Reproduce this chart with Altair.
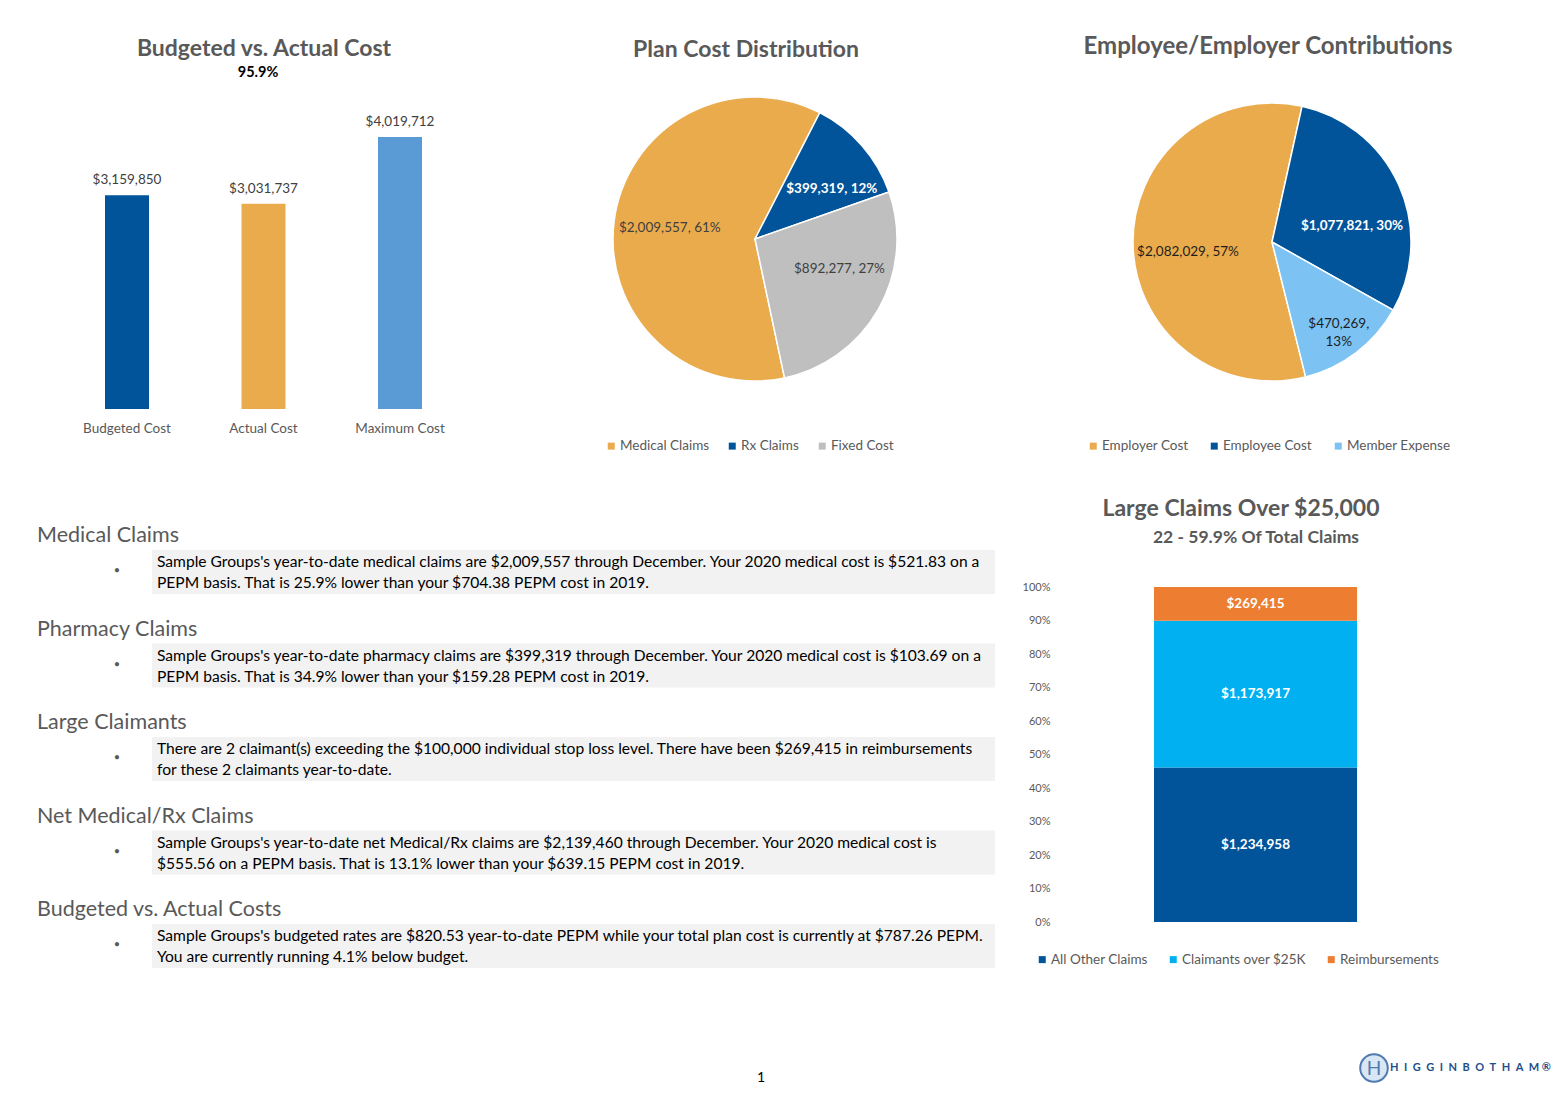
import math
import altair as alt
import pandas as pd

FONT = "Lato"
GRAY = "#595959"
DARK_BLUE = "#02549A"
ORANGE = "#EAAB4C"
LIGHT_BLUE = "#5B9BD5"
SILVER = "#BFBFBF"
SKY = "#7CC3F4"
CYAN = "#00B0F0"
RED_ORANGE = "#ED7D31"

# ---------------- data ----------------
cost_categories = ["Budgeted Cost", "Actual Cost", "Maximum Cost"]
cost_values = [3159850, 3031737, 4019712]
cost_title = ["Budgeted vs. Actual Cost"]
cost_subtitle = ["95.9%"]

plan_categories = ["Medical Claims", "Rx Claims", "Fixed Cost"]
plan_values = [2009557, 399319, 892277]
plan_title = ["Plan Cost Distribution"]

contrib_categories = ["Employer Cost", "Employee Cost", "Member Expense"]
contrib_values = [2082029, 1077821, 470269]
contrib_title = ["Employee/Employer Contributions"]

claim_categories = ["All Other Claims", "Claimants over $25K", "Reimbursements"]
claim_values = [1234958, 1173917, 269415]
claim_title = ["Large Claims Over $25,000"]
claim_subtitle = ["22 - 59.9% Of Total Claims"]
claim_ticks = [0, 0.1, 0.2, 0.3, 0.4, 0.5, 0.6, 0.7, 0.8, 0.9, 1.0]

section_titles = ["Medical Claims", "Pharmacy Claims", "Large Claimants",
                  "Net Medical/Rx Claims", "Budgeted vs. Actual Costs"]
section_line1 = [
    "Sample Groups's year-to-date medical claims are $2,009,557 through December. Your 2020 medical cost is $521.83 on a",
    "Sample Groups's year-to-date pharmacy claims are $399,319 through December. Your 2020 medical cost is $103.69 on a",
    "There are 2 claimant(s) exceeding the $100,000 individual stop loss level. There have been $269,415 in reimbursements",
    "Sample Groups's year-to-date net Medical/Rx claims are $2,139,460 through December. Your 2020 medical cost is",
    "Sample Groups's budgeted rates are $820.53 year-to-date PEPM while your total plan cost is currently at $787.26 PEPM.",
]
section_line2 = [
    "PEPM basis. That is 25.9% lower than your $704.38 PEPM cost in 2019.",
    "PEPM basis. That is 34.9% lower than your $159.28 PEPM cost in 2019.",
    "for these 2 claimants year-to-date.",
    "$555.56 on a PEPM basis. That is 13.1% lower than your $639.15 PEPM cost in 2019.",
    "You are currently running 4.1% below budget.",
]
page_number = ["1"]
brand = ["HIGGINBOTHAM"]


def label_chart(text, x, y, size, weight="normal", color=GRAY, align="center"):
    return alt.Chart(pd.DataFrame({"t": text})).mark_text(
        fontSize=size, fontWeight=weight, color=color, align=align, font=FONT
    ).encode(text="t:N", x=alt.value(x), y=alt.value(y))


# ---------------- Panel A: bar chart ----------------
W_A, H_A = 520, 462
BASE_A = 401            # pixel row of the bars' baseline
PX_PER_DOLLAR = 272 / 4.02e6
cost_df = pd.DataFrame({"cat": cost_categories, "value": cost_values})
xA = alt.X("cat:N", sort=cost_categories, axis=None,
           scale=alt.Scale(paddingInner=0, paddingOuter=0.4048, align=0.4593))
yA = alt.Y("value:Q", axis=None,
           scale=alt.Scale(domain=[-(H_A - BASE_A) / PX_PER_DOLLAR, BASE_A / PX_PER_DOLLAR],
                           nice=False, zero=False))
bars_a = alt.Chart(cost_df).mark_bar(width=44).encode(
    x=xA, y=yA, y2=alt.datum(0),
    color=alt.Color("cat:N", scale=alt.Scale(domain=cost_categories,
                                             range=[DARK_BLUE, ORANGE, LIGHT_BLUE]), legend=None))
vals_a = alt.Chart(cost_df).mark_text(dy=-15, fontSize=13.5, color="#404040", font=FONT).encode(
    x=xA, y=yA, text=alt.Text("value:Q", format="$,.0f"))
cats_a = alt.Chart(cost_df).mark_text(fontSize=13.5, color=GRAY, font=FONT).encode(
    x=xA, y=alt.value(421), text="cat:N")
panel_a = alt.layer(
    bars_a, vals_a, cats_a,
    label_chart(cost_title, 256, 41, 23, "bold"),
    label_chart(cost_subtitle, 250, 65, 14.5, "bold", "#000000"),
).properties(width=W_A, height=H_A)


# ---------------- Pie panels ----------------
def pie_panel(cats, vals, colors, title, W, H, cx, cy, r, start_deg, label_r,
              dark_cat, wrap_below, other_label_color, legend_x, legend_y, title_xy, col_pad,
              nudges, title_size=23):
    df = pd.DataFrame({"cat": cats, "value": vals, "order": list(range(len(cats)))})
    start = math.radians(start_deg)
    base = alt.Chart(df).transform_joinaggregate(total="sum(value)").transform_window(
        cum="sum(value)", sort=[alt.SortField("order")], frame=[None, 0]
    ).transform_calculate(
        s="datum.cum - datum.value",
        mid="datum.cum - datum.value / 2",
        pct="datum.value / datum.total",
    ).transform_calculate(
        label="format(datum.value, '$,.0f') + (datum.pct < %f ? ',\\n' : ', ') + format(datum.pct, '.0%%')" % wrap_below
    )
    tscale = alt.Scale(domain=[0, sum(vals)], range=[start, start + 2 * math.pi],
                       zero=True, nice=False)
    arcs = base.mark_arc(outerRadius=r, stroke="white", strokeWidth=1.5).encode(
        theta=alt.Theta("s:Q", stack=False, scale=tscale),
        theta2="cum:Q",
        x=alt.value(cx), y=alt.value(cy),
        color=alt.Color("cat:N", scale=alt.Scale(domain=cats, range=colors),
                        legend=alt.Legend(orient="none", legendX=legend_x, legendY=legend_y,
                                          direction="horizontal", title=None,
                                          symbolType="square", symbolSize=49,
                                          symbolStrokeWidth=0, labelFontSize=13.5,
                                          labelColor=GRAY, labelFont=FONT,
                                          columnPadding=col_pad, labelOffset=2, padding=0)),
    )
    layers = [arcs]
    for cat, (ndx, ndy) in zip(cats, nudges):
        dark = cat == dark_cat
        layers.append(base.transform_filter(alt.datum.cat == cat).mark_text(
            radius=label_r, fontSize=13.5, fontWeight="bold" if dark else "normal",
            color="white" if dark else other_label_color, font=FONT,
            lineBreak="\n", lineHeight=18, dx=ndx, dy=ndy).encode(
            theta=alt.Theta("mid:Q", stack=False, scale=tscale),
            x=alt.value(cx), y=alt.value(cy), text="label:N"))
    layers.append(label_chart(title, title_xy[0], title_xy[1], title_size, "bold"))
    return alt.layer(*layers).properties(width=W, height=H)


panel_b = pie_panel(plan_categories, plan_values, [ORANGE, DARK_BLUE, SILVER], plan_title,
                    482, 462, 227, 231, 142, 168, 90, "Rx Claims", 0.0, "#404040",
                    76.5, 431, (218, 42), 16, [(4, 1), (9, 9), (6, -14)])
panel_c = pie_panel(contrib_categories, contrib_values, [ORANGE, DARK_BLUE, SKY], contrib_title,
                    545, 462, 262, 234, 139, 166, 92, "Employee Cost", 0.15, "#1e1e1e",
                    76.5, 431, (258, 39), 19, [(8, 9), (-4, 22), (11, 9)], 24)

# ---------------- Panel D: commentary text ----------------
W_D, H_D = 1002, 608
FIRST, STEP = 66, 93.5
sec_df = pd.DataFrame({"k": list(range(len(section_titles))), "title": section_titles,
                       "l1": section_line1, "l2": section_line2})
ysc = alt.Scale(domain=[-FIRST / STEP, (H_D - FIRST) / STEP], reverse=True, nice=False, zero=False)
yD = alt.Y("k:Q", axis=None, scale=ysc)
sec_base = alt.Chart(sec_df)
boxes = sec_base.transform_calculate(
    top="datum.k + %f" % (14 / STEP), bot="datum.k + %f" % (58 / STEP)
).mark_rect(color="#F2F2F2").encode(
    x=alt.value(144), x2=alt.value(987),
    y=alt.Y("top:Q", axis=None, scale=ysc), y2="bot:Q")
heads = sec_base.mark_text(align="left", fontSize=21.5, color=GRAY, font=FONT).encode(
    x=alt.value(29), y=yD, text="title:N")
bullets = sec_base.mark_text(text="\u2022", fontSize=11, color=GRAY, dy=35).encode(
    x=alt.value(109), y=yD)
line1 = sec_base.mark_text(align="left", fontSize=15.6, color="#000000", font=FONT, dy=26).encode(
    x=alt.value(149), y=yD, text="l1:N")
line2 = sec_base.mark_text(align="left", fontSize=15.6, color="#000000", font=FONT, dy=47).encode(
    x=alt.value(149), y=yD, text="l2:N")
panel_d = alt.layer(
    boxes, heads, bullets, line1, line2,
    label_chart(page_number, 753, 608, 14, "normal", "#000000"),
).properties(width=W_D, height=H_D)

# ---------------- Panel E: stacked bar ----------------
W_E, H_E = 545, 608
TOP_E, BOT_E = 117, 452
PX_UNIT = BOT_E - TOP_E
claim_df = pd.DataFrame({"cat": claim_categories, "value": claim_values,
                         "order": list(range(len(claim_categories)))})
base_e = alt.Chart(claim_df).transform_joinaggregate(total="sum(value)").transform_window(
    cum="sum(value)", sort=[alt.SortField("order")], frame=[None, 0]
).transform_calculate(
    end="datum.cum / datum.total",
    start="(datum.cum - datum.value) / datum.total",
    mid="(datum.cum - datum.value / 2) / datum.total",
    grp="'all'",
)
escale = alt.Scale(domain=[-(H_E - BOT_E) / PX_UNIT, 1 + TOP_E / PX_UNIT], nice=False, zero=False)
e_axis = alt.Axis(values=claim_ticks, format=".0%", offset=-40, ticks=False,
                  domain=False, grid=False, labelPadding=0, labelFontSize=11,
                  labelColor=GRAY, labelFont=FONT, title=None, labelFlush=False)
xE = alt.X("grp:N", axis=None, scale=alt.Scale(paddingInner=0, paddingOuter=0.842, align=0.4211))
stack_bars = base_e.mark_bar().encode(
    x=xE,
    y=alt.Y("start:Q", scale=escale, axis=e_axis),
    y2="end:Q",
    color=alt.Color("cat:N", scale=alt.Scale(domain=claim_categories,
                                             range=[DARK_BLUE, CYAN, RED_ORANGE]),
                    legend=alt.Legend(orient="none", legendX=25.5, legendY=482.5,
                                      direction="horizontal", title=None, symbolType="square",
                                      symbolSize=49, symbolStrokeWidth=0, labelFontSize=13.5,
                                      labelColor=GRAY, labelFont=FONT, columnPadding=18,
                                      labelOffset=2, padding=0)),
)
stack_text = base_e.mark_text(color="white", fontWeight="bold", fontSize=13.5, font=FONT).encode(
    x=xE, y=alt.Y("mid:Q", scale=escale, axis=e_axis), text=alt.Text("value:Q", format="$,.0f"))
logo_circle = alt.Chart(pd.DataFrame({"t": brand})).mark_point(
    shape="circle", filled=True, size=760, fill="#D9E6F3", stroke="#4F7BB0",
    strokeWidth=2, opacity=1).encode(x=alt.value(364), y=alt.value(598))
logo_h = alt.Chart(pd.DataFrame({"t": brand})).transform_calculate(
    h="substring(datum.t, 0, 1)").mark_text(
    fontSize=19, color="#4F7BB0", font=FONT).encode(text="h:N", x=alt.value(364), y=alt.value(599))
logo_text = alt.Chart(pd.DataFrame({"t": brand})).transform_calculate(
    s="join(split(datum.t, ''), '\u2002') + ' \u00ae'").mark_text(
    align="left", fontSize=11, fontWeight="bold", color="#1F4E8C", font=FONT).encode(
    text="s:N", x=alt.value(380), y=alt.value(598))
panel_e = alt.layer(
    stack_bars, stack_text,
    label_chart(claim_title, 231, 39, 23, "bold"),
    label_chart(claim_subtitle, 246, 68, 17.5, "bold"),
    logo_circle, logo_h, logo_text,
).properties(width=W_E, height=H_E)

row1 = alt.hconcat(panel_a, panel_b, panel_c, spacing=0).resolve_scale(
    color="independent", theta="independent").resolve_legend(color="independent")
row2 = alt.hconcat(panel_d, panel_e, spacing=0).resolve_scale(
    color="independent").resolve_legend(color="independent")

chart = alt.vconcat(row1, row2, spacing=0).resolve_scale(
    color="independent", theta="independent").resolve_legend(color="independent").properties(
    padding=0).configure(font=FONT, background="white").configure_view(stroke=None, strokeWidth=0)

chart.save("out.html", embed_options={"renderer": "svg", "actions": False})
